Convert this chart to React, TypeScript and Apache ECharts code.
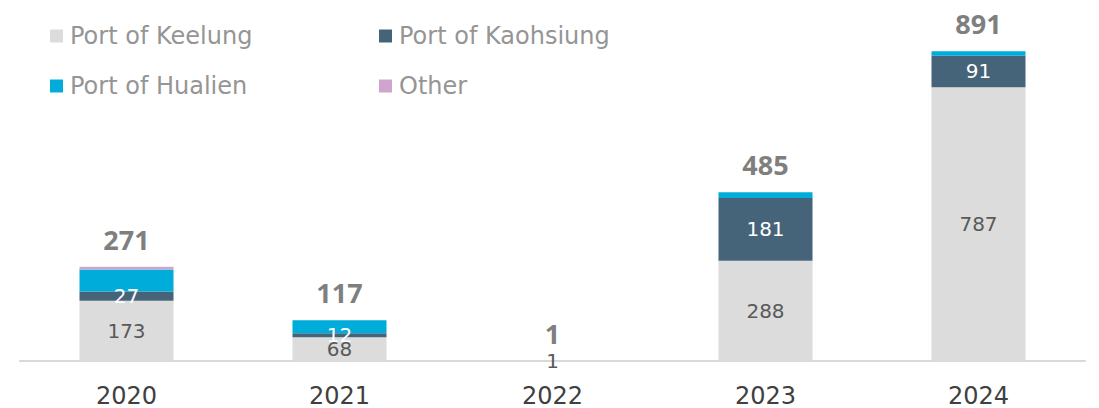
import React, { useEffect, useRef } from "react";
import * as echarts from "echarts";

const categories = ["2020", "2021", "2022", "2023", "2024"];
const keelung = [173, 68, 1, 288, 787];
const kaohsiung = [27, 12, 0, 181, 91];
const hualien = [63, 37, 0, 16, 13];
const other = [8, 0, 0, 0, 0];
const totals = [271, 117, 1, 485, 891];

const seriesNames = ["Port of Keelung", "Port of Kaohsiung", "Port of Hualien", "Other"];
const colors = ["#DCDCDC", "#456479", "#00ACD9", "#CFA5CF"];

const FONT = "DejaVu Sans";

export default function App() {
  const ref = useRef<HTMLDivElement>(null);
  useEffect(() => {
    if (!ref.current) return;
    const chart = echarts.init(ref.current, null, { renderer: "svg" });
    const legendPos = [
      { left: 50, top: 23 },
      { left: 379, top: 23 },
      { left: 50, top: 73 },
      { left: 379, top: 73 },
    ];
    const segLabel = (color: string) => ({
      show: true,
      position: "inside",
      color,
      fontFamily: FONT,
      fontSize: 20,
      formatter: (p: any) => (p.value ? String(p.value) : ""),
    });
    chart.setOption({
      animation: false,
      legend: seriesNames.map((n, i) => ({
        data: [n],
        left: legendPos[i].left,
        top: legendPos[i].top,
        padding: 0,
        itemWidth: 13,
        itemHeight: 13,
        icon: "rect",
        textStyle: {
          color: "#959595",
          fontFamily: FONT,
          fontSize: 24,
          lineHeight: 26,
          padding: [0, 0, 0, 2],
        },
      })),
      grid: { left: 20, right: 14, top: 48, bottom: 45 },
      xAxis: {
        type: "category",
        data: categories,
        axisTick: { show: false },
        axisLine: { lineStyle: { color: "#D9D9D9", width: 2 } },
        axisLabel: {
          color: "#404040",
          fontFamily: FONT,
          fontSize: 24,
          lineHeight: 18,
          margin: 26,
        },
      },
      yAxis: { type: "value", min: 0, max: 900, show: false, splitLine: { show: false } },
      series: [
        {
          name: seriesNames[0],
          type: "bar",
          stack: "s",
          data: keelung,
          barWidth: 94,
          itemStyle: { color: colors[0] },
          label: segLabel("#595959"),
        },
        {
          name: seriesNames[1],
          type: "bar",
          stack: "s",
          data: kaohsiung,
          itemStyle: { color: colors[1] },
          label: segLabel("#FFFFFF"),
        },
        {
          name: seriesNames[2],
          type: "bar",
          stack: "s",
          data: hualien,
          itemStyle: { color: colors[2] },
        },
        {
          name: seriesNames[3],
          type: "bar",
          stack: "s",
          data: other,
          itemStyle: { color: colors[3] },
        },
        {
          name: "Total",
          type: "line",
          data: totals,
          symbol: "circle",
          symbolSize: 0,
          itemStyle: { color: "rgba(0,0,0,0)" },
          lineStyle: { width: 0, color: "rgba(0,0,0,0)" },
          z: 10,
          label: {
            show: true,
            position: "top",
            distance: 14,
            color: "#7F7F7F",
            fontFamily: "Open Sans",
            fontWeight: "bold",
            fontSize: 27,
          },
        },
      ],
    });
    return () => chart.dispose();
  }, []);
  return (
    <div
      ref={ref}
      style={{ position: "absolute", left: 0, top: 0, width: 1099, height: 408 }}
    />
  );
}
